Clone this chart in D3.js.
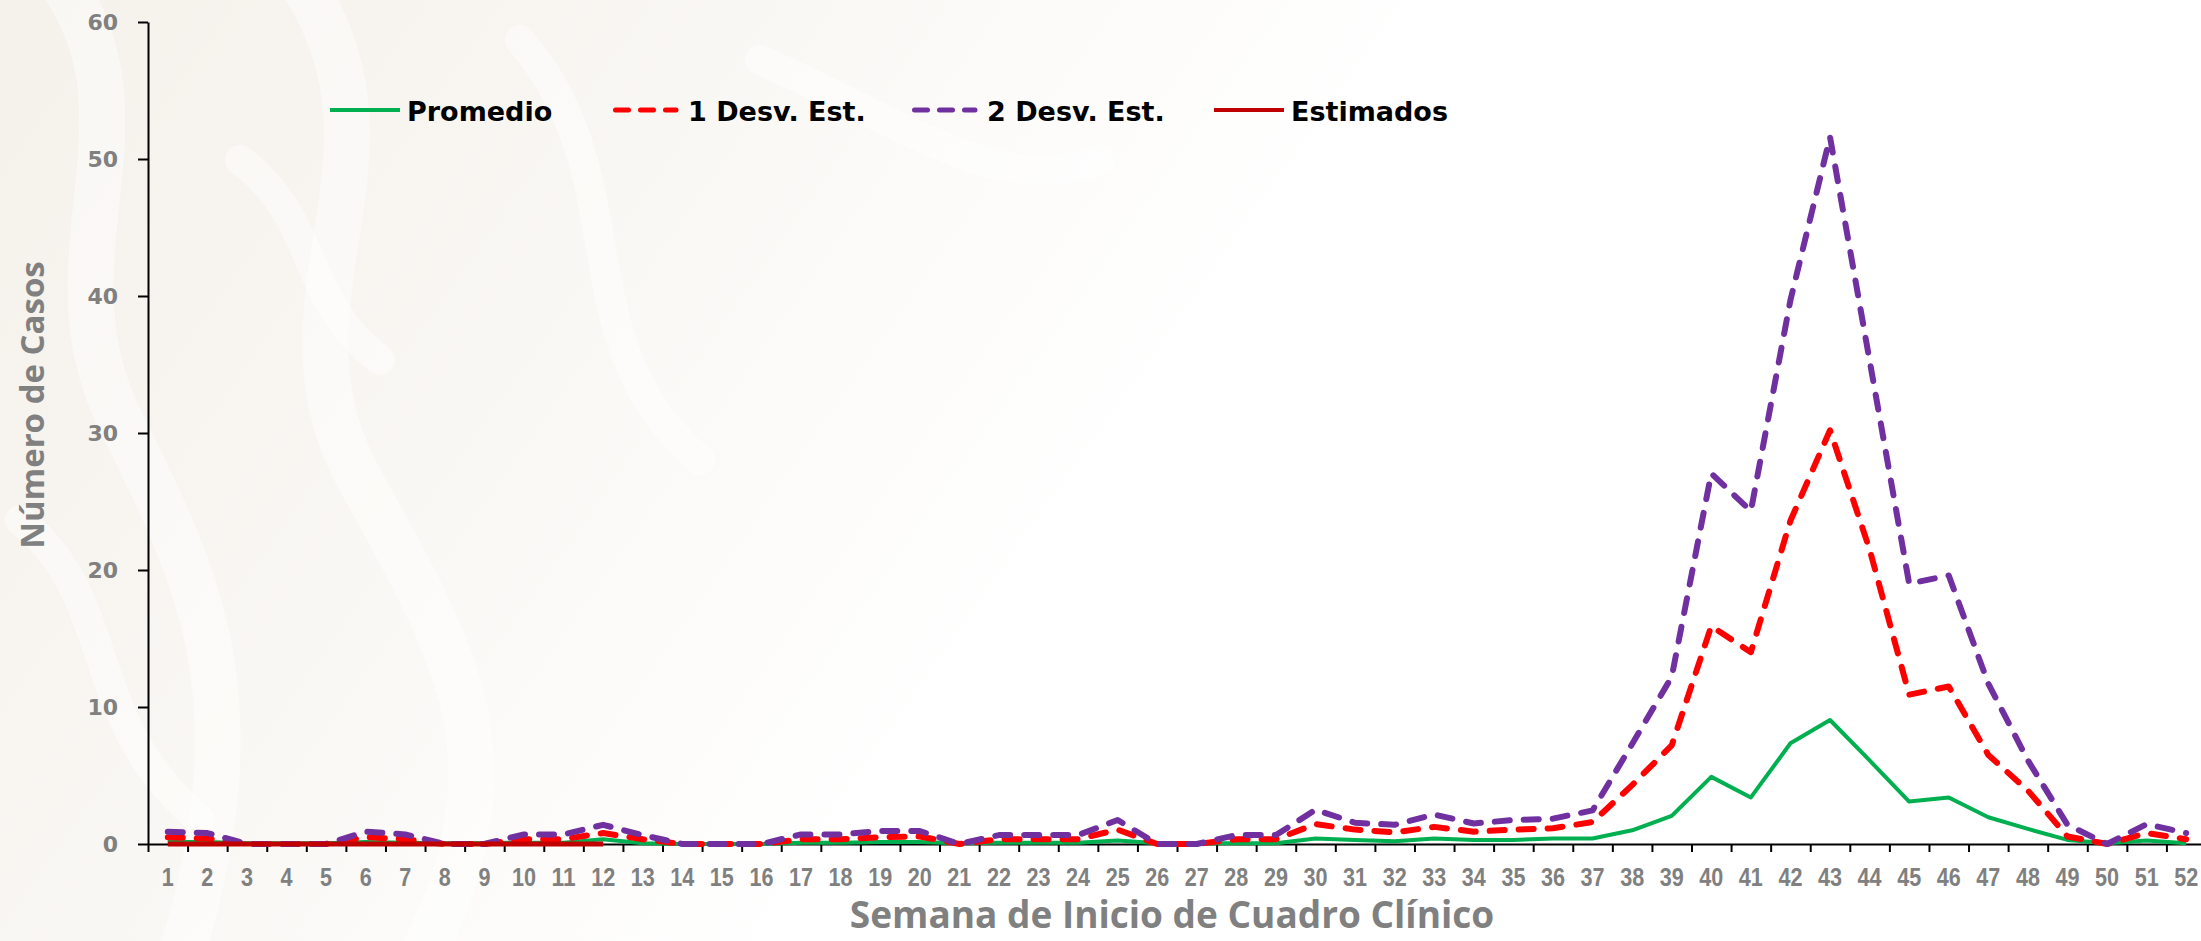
<!DOCTYPE html>
<html>
<head>
<meta charset="utf-8">
<script src="https://cdn.jsdelivr.net/npm/d3@7"></script>
<style>
body { margin: 0; background: #fff; }
</style>
</head>
<body>
<div class="canvas"></div>
<script>
// Data
const weeks = d3.range(1, 53);
const promedio = [0.15, 0.15, 0.05, 0.05, 0.05, 0.15, 0.1, 0.05, 0.05, 0.1, 0.1, 0.35, 0.05,
                  0, 0, 0, 0.1, 0.1, 0.15, 0.15, 0.05, 0.1, 0.1, 0.1, 0.25, 0.05,
                  0.05, 0.05, 0.05, 0.4, 0.3, 0.2, 0.4, 0.3, 0.3, 0.4, 0.4, 1.0, 2.05,
                  4.9, 3.4, 7.35, 9.05, 6.1, 3.1, 3.4, 1.95, 1.1, 0.3, 0.05, 0.25, 0.05];
const desv1 = [0.5, 0.4, 0, 0, 0, 0.5, 0.35, 0, 0, 0.35, 0.35, 0.8, 0.35,
               0, 0, 0, 0.35, 0.35, 0.5, 0.55, 0, 0.35, 0.35, 0.35, 1.05, 0,
               0, 0.35, 0.35, 1.45, 1.05, 0.85, 1.25, 0.9, 1.05, 1.15, 1.6, 4.3, 7.2,
               15.9, 14.0, 23.6, 30.2, 21.5, 10.9, 11.5, 6.5, 3.9, 0.55, 0, 0.8, 0.35];
const desv2 = [0.9, 0.8, 0, 0, 0, 0.9, 0.7, 0, 0, 0.7, 0.7, 1.4, 0.65,
               0, 0, 0, 0.7, 0.7, 0.95, 0.95, 0, 0.65, 0.65, 0.65, 1.75, 0,
               0, 0.65, 0.65, 2.5, 1.55, 1.4, 2.15, 1.5, 1.75, 1.85, 2.45, 7.3, 12.2,
               27.05, 24.3, 39.7, 51.6, 35.3, 19.0, 19.6, 11.7, 6.1, 1.4, 0, 1.45, 0.8];
const estimados = [0, 0, 0, 0, 0, 0, 0, 0, 0, 0, 0, 0];
const y_ticks = [0, 10, 20, 30, 40, 50, 60];
const legend_labels = ["Promedio", "1 Desv. Est.", "2 Desv. Est.", "Estimados"];

// Settings
const width = 2201, height = 941;
const plot_left = 148, plot_right = 2206, plot_top = 22, plot_bottom = 844;
const tick_color = "#808080";
const colors = ["#00B050", "#FF0000", "#7030A0", "#C00000"];

const svg = d3.select(".canvas").append("svg")
    .attr("width", width)
    .attr("height", height);

// faint watermark background
const defs = svg.append("defs");
const grad = defs.append("linearGradient").attr("id", "bg").attr("x1", 0).attr("x2", 1).attr("y1", 0).attr("y2", 0.3);
grad.append("stop").attr("offset", "0%").attr("stop-color", "#F5F1EB");
grad.append("stop").attr("offset", "30%").attr("stop-color", "#F9F7F3");
grad.append("stop").attr("offset", "60%").attr("stop-color", "#FFFFFF");
svg.append("rect").attr("width", width).attr("height", height).attr("fill", "url(#bg)");

const swirls = [
  "M 60 -20 C 160 120, 40 260, 120 420 S 260 700, 180 960",
  "M 300 -20 C 420 160, 260 300, 360 480 S 520 760, 420 960",
  "M 520 40 C 640 180, 560 340, 700 460",
  "M 20 520 C 120 600, 80 720, 200 820",
  "M 760 60 C 900 120, 1000 200, 1100 160",
  "M 240 160 C 320 220, 300 300, 380 360"
];
svg.append("g").selectAll("path").data(swirls).enter().append("path")
    .attr("d", d => d)
    .attr("fill", "none")
    .attr("stroke", "#FFFFFF")
    .attr("stroke-width", (d, i) => i < 2 ? 46 : 30)
    .attr("stroke-linecap", "round")
    .attr("opacity", 0.45);

// scales
const xScale = d3.scaleBand().domain(weeks).range([plot_left, plot_right]);
const xEdge = d3.scaleLinear().domain([0, 52]).range([plot_left, plot_right]);
const yScale = d3.scaleLinear().domain([0, 60]).range([plot_bottom, plot_top]);
const cx = w => xScale(w) + xScale.bandwidth() / 2;

// y axis
const yAxis = svg.append("g")
    .attr("transform", `translate(${plot_left},0)`)
    .call(d3.axisLeft(yScale).tickValues(y_ticks).tickSize(10).tickSizeOuter(0).tickPadding(20));
yAxis.select(".domain").attr("stroke", "#000").attr("stroke-width", 2);
yAxis.selectAll(".tick line").attr("stroke", "#000").attr("stroke-width", 2);
yAxis.selectAll(".tick text")
    .attr("fill", tick_color)
    .style("font-family", "'DejaVu Sans', sans-serif")
    .style("font-weight", "bold")
    .style("font-size", "22px");

// x axis: boundary ticks
const xTicks = svg.append("g")
    .attr("transform", `translate(0,${plot_bottom})`)
    .call(d3.axisBottom(xEdge).tickValues(d3.range(0, 53)).tickFormat("").tickSize(8).tickSizeOuter(0));
xTicks.select(".domain").attr("stroke", "#000").attr("stroke-width", 2);
xTicks.selectAll(".tick line").attr("stroke", "#000").attr("stroke-width", 2);

// x axis: labels (narrow bold look, squeezed with textLength)
const xLabels = svg.append("g")
    .attr("transform", `translate(0,${plot_bottom})`)
    .call(d3.axisBottom(xScale).tickSize(0).tickPadding(24));
xLabels.select(".domain").remove();
xLabels.selectAll(".tick text")
    .attr("fill", tick_color)
    .attr("textLength", d => String(d).length * 12)
    .attr("lengthAdjust", "spacingAndGlyphs")
    .style("font-family", "'Liberation Sans', Arial, sans-serif")
    .style("font-weight", "bold")
    .style("font-size", "26px");

// axis titles
svg.append("text")
    .attr("x", 1172).attr("y", 928)
    .attr("text-anchor", "middle")
    .attr("fill", tick_color)
    .style("font-family", "'Open Sans', sans-serif")
    .style("font-weight", "bold")
    .style("font-size", "37px")
    .text("Semana de Inicio de Cuadro Clínico");

svg.append("text")
    .attr("transform", "translate(44,405) rotate(-90)")
    .attr("text-anchor", "middle")
    .attr("fill", tick_color)
    .style("font-family", "'Open Sans', sans-serif")
    .style("font-weight", "bold")
    .style("font-size", "33px")
    .text("Número de Casos");

// lines
const series = [promedio, desv1, desv2, estimados];
const dashes = [null, "15 14", "15 14", null];
const widths = [4, 6, 6, 5];

const lineGen = d3.line()
    .x((d, i) => cx(weeks[i]))
    .y(d => yScale(d));

series.forEach((s, k) => {
  svg.append("path")
      .datum(s)
      .attr("d", lineGen)
      .attr("fill", "none")
      .attr("stroke", colors[k])
      .attr("stroke-width", widths[k])
      .attr("stroke-linejoin", "round")
      .attr("stroke-linecap", dashes[k] ? "round" : "butt")
      .attr("stroke-dasharray", dashes[k]);
});

// legend
const legend_x = [330, 613, 912, 1214];
const legend = svg.append("g");
legend_labels.forEach((label, k) => {
  const x0 = legend_x[k];
  const dashed = dashes[k] != null;
  legend.append("line")
      .attr("x1", dashed ? x0 + 2.5 : x0)
      .attr("x2", dashed ? x0 + 63 : x0 + 70)
      .attr("y1", 110).attr("y2", 110)
      .attr("stroke", colors[k])
      .attr("stroke-width", dashed ? 5 : 4)
      .attr("stroke-linecap", dashed ? "round" : "butt")
      .attr("stroke-dasharray", dashed ? "13 12" : null);
  legend.append("text")
      .attr("x", x0 + (dashed ? 75 : 77))
      .attr("y", 121)
      .attr("fill", "#000")
      .style("font-family", "'DejaVu Sans', sans-serif")
      .style("font-weight", "bold")
      .style("font-size", "27px")
      .text(label);
});
</script>
</body>
</html>
